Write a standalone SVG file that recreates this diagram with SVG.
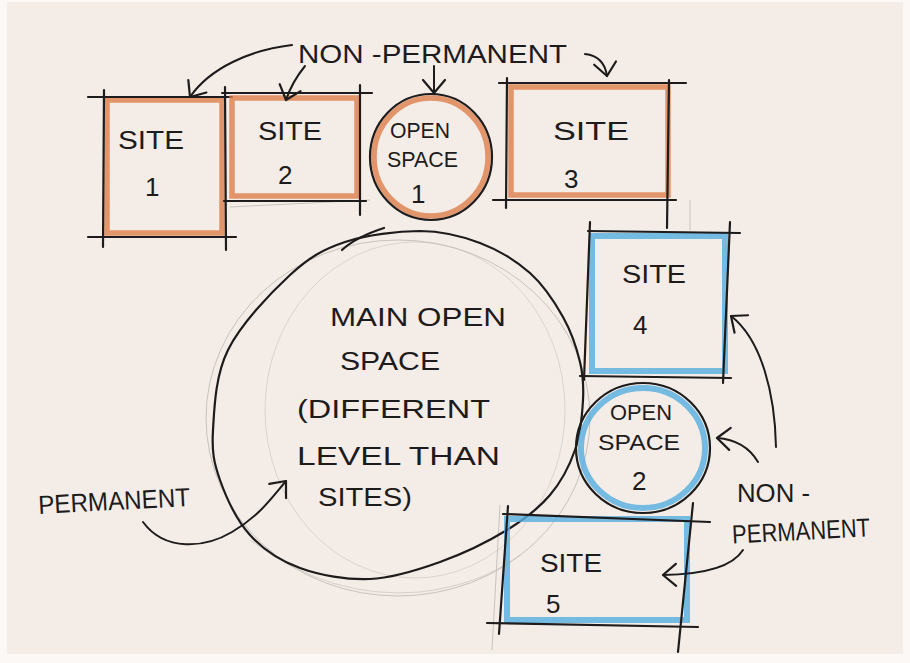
<svg xmlns="http://www.w3.org/2000/svg" width="910" height="663" viewBox="0 0 910 663">
<defs>
<marker id="v" markerUnits="userSpaceOnUse" markerWidth="30" markerHeight="30" refX="0" refY="0" viewBox="-16 -15 20 30" orient="auto">
<path d="M-13,-11 L0,0 L-13,11" fill="none" stroke="#1d1b1b" stroke-width="2.2" stroke-linecap="round" stroke-linejoin="round"/>
</marker>
<style>
.ink{fill:none;stroke:#1d1b1b;stroke-width:2.2;stroke-linecap:round;stroke-linejoin:round}
.or{fill:none;stroke:#dc7b47;stroke-width:5.5;opacity:0.78}
.bl{fill:none;stroke:#55ace0;stroke-width:6;opacity:0.8}
.pen{fill:none;stroke:#c8c2bc;stroke-width:1}
.t{font-family:"Liberation Sans","DejaVu Sans",sans-serif;fill:#1d1b1b;font-size:26px}
.s{font-size:22px}
.arr{fill:none;stroke:#1d1b1b;stroke-width:2;stroke-linecap:round;marker-end:url(#v)}
</style>
</defs>
<rect width="910" height="663" fill="#fbf8f5"/>
<rect x="7" y="2" width="896" height="652" fill="#f4ede7"/>

<!-- faint pencil guides -->
<g id="pencil">
<ellipse cx="398" cy="418" rx="192" ry="178" class="pen"/>
<ellipse cx="415" cy="410" rx="150" ry="168" class="pen" opacity="0.6"/>
<path d="M250,540 Q330,600 420,592 Q480,585 520,555" class="pen" opacity="0.7"/>
<line x1="230" y1="207" x2="370" y2="200" class="pen"/>
<line x1="500" y1="505" x2="492" y2="650" class="pen"/>
<line x1="690" y1="200" x2="690" y2="230" class="pen"/>
</g>

<g id="main-open-space">
<path class="ink" d="M420,231 C442.5,231.2 461.7,236 480,243 C498.3,250 516.2,260.7 530,273 C543.8,285.3 554.7,302.2 563,317 C571.3,331.8 576.7,348.2 580,362 C583.3,375.8 583.8,385.3 583,400 C582.2,414.7 580.5,434.2 575,450 C569.5,465.8 561.3,481.7 550,495 C538.7,508.3 525.3,518.8 507,530 C488.7,541.2 462.8,553.8 440,562 C417.2,570.2 393.3,578 370,579 C346.7,580 320,575.3 300,568 C280,560.7 263.3,549.7 250,535 C236.7,520.3 226.2,497.5 220,480 C213.8,462.5 211.7,451.7 213,430 C214.3,408.3 215.2,375.8 228,350 C240.8,324.2 270.5,293 290,275 C309.5,257 323.3,249.3 345,242 C366.7,234.7 397.5,231.2 420,231 Z"/>
<path class="ink" d="M342,250 Q356,237 384,228"/>
<text class="t" x="330" y="326" textLength="176" lengthAdjust="spacingAndGlyphs">MAIN OPEN</text>
<text class="t" x="340" y="370" textLength="100" lengthAdjust="spacingAndGlyphs">SPACE</text>
<text class="t" x="297" y="418" textLength="193" lengthAdjust="spacingAndGlyphs">(DIFFERENT</text>
<text class="t" x="297" y="465" textLength="203" lengthAdjust="spacingAndGlyphs">LEVEL THAN</text>
<text class="t" x="318" y="506" textLength="94" lengthAdjust="spacingAndGlyphs">SITES)</text>
</g>

<g id="site-1">
<rect x="107" y="100" width="115" height="133" class="or"/>
<line x1="88" y1="97" x2="232" y2="97" class="ink"/>
<line x1="104" y1="90" x2="103" y2="247" class="ink"/>
<line x1="225" y1="87" x2="226" y2="250" class="ink"/>
<line x1="88" y1="237" x2="236" y2="237" class="ink"/>
<text class="t" x="118" y="149" textLength="66" lengthAdjust="spacingAndGlyphs">SITE</text>
<text class="t" x="145" y="196">1</text>
</g>

<g id="site-2">
<rect x="232" y="98" width="125" height="98" class="or"/>
<line x1="222" y1="93" x2="372" y2="93" class="ink"/>
<line x1="360" y1="85" x2="360" y2="215" class="ink"/>
<line x1="224" y1="201" x2="366" y2="201" class="ink"/>
<text class="t" x="258" y="140" textLength="64" lengthAdjust="spacingAndGlyphs">SITE</text>
<text class="t" x="278" y="184">2</text>
</g>

<g id="open-space-1">
<ellipse cx="431" cy="157" rx="57" ry="59" class="or" stroke-width="5"/>
<ellipse cx="431" cy="157" rx="61" ry="63" class="ink"/>
<text class="t s" x="390" y="138" textLength="60" lengthAdjust="spacingAndGlyphs">OPEN</text>
<text class="t s" x="387" y="167" textLength="71" lengthAdjust="spacingAndGlyphs">SPACE</text>
<text class="t" x="411" y="203">1</text>
</g>

<g id="site-3">
<rect x="511" y="87" width="157" height="108" class="or"/>
<line x1="499" y1="83" x2="686" y2="83" class="ink"/>
<line x1="507" y1="78" x2="506" y2="208" class="ink"/>
<line x1="669" y1="80" x2="667" y2="228" class="ink"/>
<line x1="493" y1="200" x2="676" y2="200" class="ink"/>
<text class="t" x="553" y="140" textLength="76" lengthAdjust="spacingAndGlyphs">SITE</text>
<text class="t" x="564" y="188">3</text>
</g>

<g id="site-4">
<rect x="592" y="236" width="133" height="135" class="bl"/>
<line x1="588" y1="231" x2="740" y2="233" class="ink"/>
<line x1="590" y1="222" x2="584" y2="380" class="ink"/>
<line x1="730" y1="222" x2="723" y2="383" class="ink"/>
<line x1="580" y1="376" x2="731" y2="378" class="ink"/>
<text class="t" x="622" y="283" textLength="64" lengthAdjust="spacingAndGlyphs">SITE</text>
<text class="t" x="633" y="334">4</text>
</g>

<g id="open-space-2">
<ellipse cx="643" cy="448" rx="62" ry="60" class="bl" stroke-width="5"/>
<ellipse cx="643" cy="448" rx="67" ry="65" class="ink"/>
<text class="t s" x="610" y="420" textLength="62" lengthAdjust="spacingAndGlyphs">OPEN</text>
<text class="t s" x="598" y="450" textLength="82" lengthAdjust="spacingAndGlyphs">SPACE</text>
<text class="t" x="632" y="490">2</text>
</g>

<g id="site-5">
<rect x="507" y="519" width="180" height="101" class="bl"/>
<line x1="503" y1="514" x2="710" y2="522" class="ink"/>
<line x1="508" y1="506" x2="499" y2="634" class="ink"/>
<line x1="693" y1="503" x2="678" y2="652" class="ink"/>
<line x1="487" y1="623" x2="698" y2="627" class="ink"/>
<text class="t" x="540" y="572" textLength="62" lengthAdjust="spacingAndGlyphs">SITE</text>
<text class="t" x="546" y="613">5</text>
</g>

<g id="labels">
<text class="t" x="298" y="63" textLength="269" lengthAdjust="spacingAndGlyphs">NON -PERMANENT</text>
<text class="t" x="38" y="510" textLength="152" lengthAdjust="spacingAndGlyphs" transform="rotate(-3 114 500)">PERMANENT</text>
<text class="t" x="737" y="502" textLength="73" lengthAdjust="spacingAndGlyphs">NON -</text>
<text class="t" x="732" y="540" textLength="138" lengthAdjust="spacingAndGlyphs" transform="rotate(-3 800 530)">PERMANENT</text>
</g>

<g id="connectors">
<path class="arr" d="M292,45 C250,50 210,68 190,97"/>
<path class="arr" d="M305,66 Q292,82 286,100"/>
<path class="arr" d="M434,66 L434,93"/>
<path class="arr" d="M585,54 Q604,56 607,76"/>
<path class="arr" d="M776,447 C775,395 762,340 731,316"/>
<path class="arr" d="M758,462 Q745,440 717,438"/>
<path class="arr" d="M743,550 Q728,574 663,575"/>
<path class="arr" d="M143,522 C165,552 205,548 232,532 S270,500 286,481"/>
</g>
</svg>
